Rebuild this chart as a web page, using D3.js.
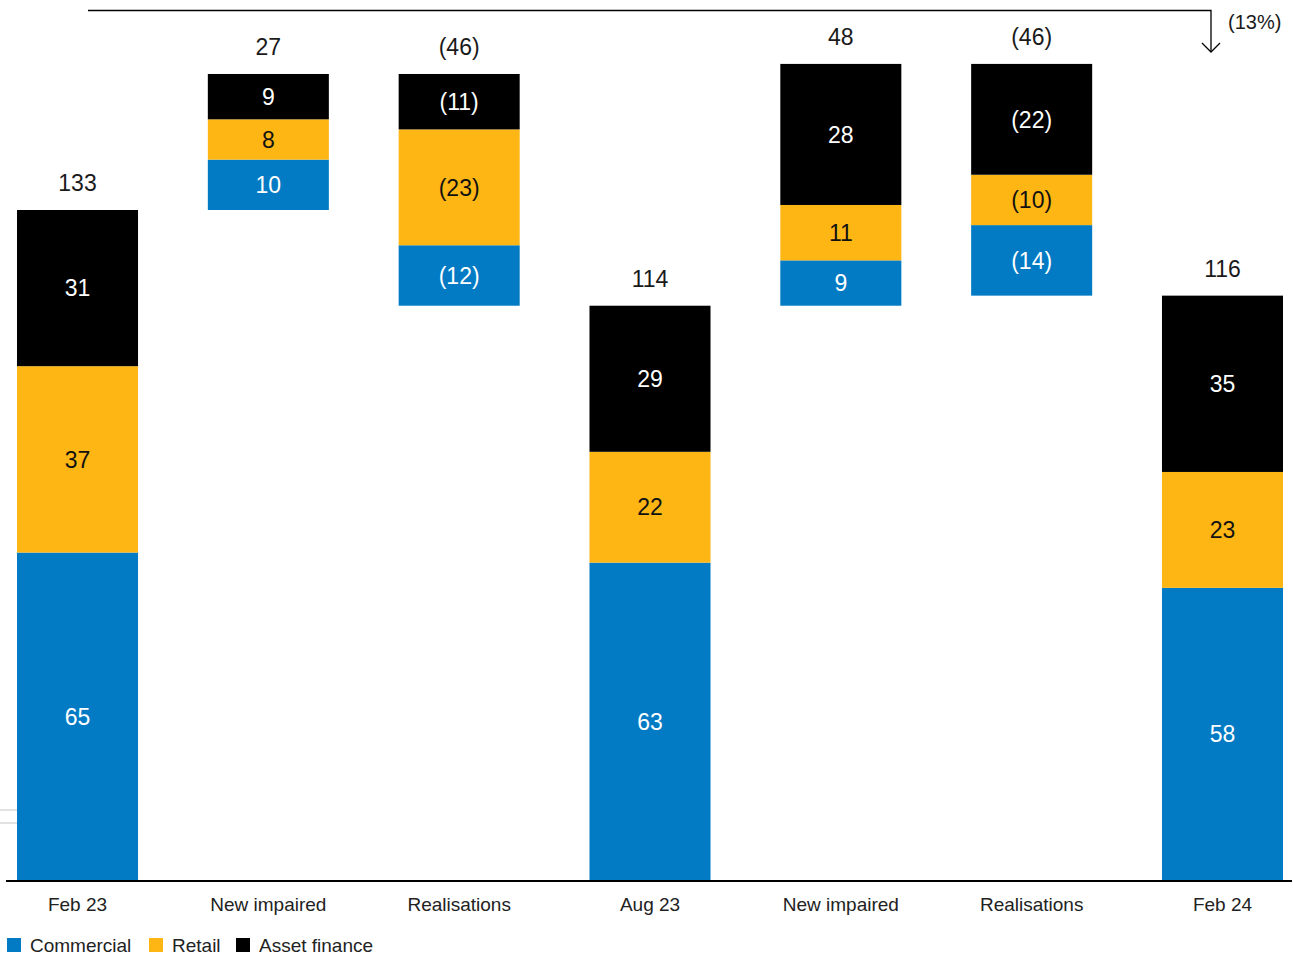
<!DOCTYPE html>
<html>
<head>
<meta charset="utf-8">
<script src="https://cdn.jsdelivr.net/npm/d3@7"></script>
<style>
  html, body { margin: 0; padding: 0; background: #fff; }
  svg { display: block; font-family: "Liberation Sans", Arial, sans-serif; }
</style>
</head>
<body>
<svg id="chart" width="1293" height="956"></svg>
<script>
// Impaired loans bridge, £m
const categories = ["Feb 23", "New impaired", "Realisations", "Aug 23", "New impaired", "Realisations", "Feb 24"];
const kinds = ["total", "delta", "delta", "total", "delta", "delta", "total"];
const commercial = [65, 10, -12, 63, 9, -14, 58];
const retail = [37, 8, -23, 22, 11, -10, 23];
const assetFinance = [31, 9, -11, 29, 28, -22, 35];
const totals = [133, 27, -46, 114, 48, -46, 116];
const changeLabel = "(13%)";

const seriesNames = ["Commercial", "Retail", "Asset finance"];
const seriesValues = [commercial, retail, assetFinance];
const colors = ["#027bc4", "#fdb614", "#000000"];
const textColors = ["#ffffff", "#111111", "#ffffff"];

const svg = d3.select("#chart");
const baseY = 880;

const x = d3.scaleBand()
  .domain(d3.range(categories.length))
  .range([17, 1283])
  .paddingInner(0.3658)
  .paddingOuter(0);

const y = d3.scaleLinear().domain([0, 133]).range([baseY, 210]);

const fmt = v => v < 0 ? `(${Math.abs(v)})` : `${v}`;

// Build floating stacks: totals start at zero, deltas start from the running level
let running = 0;
const bars = categories.map((cat, i) => {
  let start;
  if (kinds[i] === "total") {
    start = 0;
    running = totals[i];
  } else {
    start = totals[i] >= 0 ? running : running + totals[i];
    running += totals[i];
  }
  let acc = start;
  const segs = seriesValues.map((vals, s) => {
    const v = Math.abs(vals[i]);
    const seg = { s, i, y0: acc, y1: acc + v, value: vals[i] };
    acc += v;
    return seg;
  });
  return { i, cat, segs, top: acc, total: totals[i] };
});

// faint mark at the left edge
svg.append("rect")
  .attr("x", -1).attr("y", 810).attr("width", 20).attr("height", 13)
  .attr("fill", "none").attr("stroke", "#e2e2e2").attr("stroke-width", 2);

const g = svg.append("g");

bars.forEach(b => {
  const col = g.append("g");
  col.selectAll("rect")
    .data(b.segs)
    .join("rect")
    .attr("x", x(b.i))
    .attr("width", x.bandwidth())
    .attr("y", d => y(d.y1))
    .attr("height", d => y(d.y0) - y(d.y1))
    .attr("fill", d => colors[d.s]);

  col.selectAll("text.seg")
    .data(b.segs)
    .join("text")
    .attr("class", "seg")
    .attr("x", x(b.i) + x.bandwidth() / 2)
    .attr("y", d => (y(d.y0) + y(d.y1)) / 2)
    .attr("dy", "0.36em")
    .attr("text-anchor", "middle")
    .attr("font-size", 23)
    .attr("fill", d => textColors[d.s])
    .text(d => fmt(d.value));

  col.append("text")
    .attr("x", x(b.i) + x.bandwidth() / 2)
    .attr("y", y(b.top) - 27)
    .attr("dy", "0.36em")
    .attr("text-anchor", "middle")
    .attr("font-size", 23)
    .attr("fill", "#1a1a1a")
    .text(fmt(b.total));
});

// baseline axis
const xAxis = d3.axisBottom(x).tickSize(0).tickPadding(18).tickFormat(i => categories[i]);
const axisG = svg.append("g").attr("transform", `translate(0,${baseY})`).call(xAxis);
axisG.select(".domain").remove();
axisG.selectAll("text")
  .attr("font-size", 19)
  .attr("fill", "#222")
  .attr("font-family", "Liberation Sans, Arial, sans-serif");
svg.append("line")
  .attr("x1", 6).attr("x2", 1292)
  .attr("y1", baseY + 1).attr("y2", baseY + 1)
  .attr("stroke", "#000").attr("stroke-width", 2);

// overall change arrow
const arrowX = 1211;
svg.append("path")
  .attr("d", `M88,10.5 H${arrowX} V52`)
  .attr("fill", "none").attr("stroke", "#000").attr("stroke-width", 1.3);
svg.append("path")
  .attr("d", `M${arrowX - 9},43 L${arrowX},52 L${arrowX + 9},43`)
  .attr("fill", "none").attr("stroke", "#000").attr("stroke-width", 1.3);
svg.append("text")
  .attr("x", 1228).attr("y", 22).attr("dy", "0.36em")
  .attr("font-size", 20).attr("fill", "#1a1a1a")
  .text(changeLabel);

// legend
const legend = svg.append("g").attr("transform", "translate(7,945)");
const legendOffsets = [0, 142, 229];
seriesNames.forEach((name, s) => {
  const item = legend.append("g").attr("transform", `translate(${legendOffsets[s]},0)`);
  item.append("rect").attr("x", 0).attr("y", -7).attr("width", 14).attr("height", 14).attr("fill", colors[s]);
  item.append("text").attr("x", 23).attr("y", 0).attr("dy", "0.36em")
    .attr("font-size", 19).attr("fill", "#222").text(name);
});
</script>
</body>
</html>
